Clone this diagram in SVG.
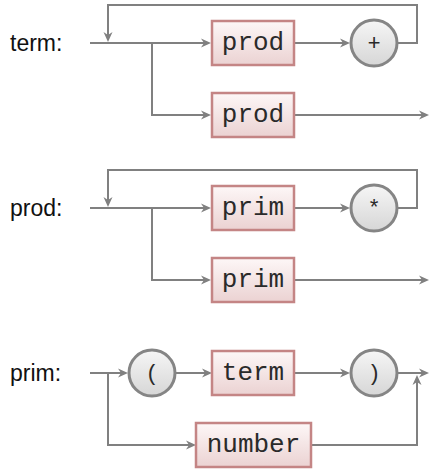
<svg xmlns="http://www.w3.org/2000/svg" width="430" height="471" viewBox="0 0 430 471">
<defs>
<linearGradient id="gBox" x1="0" y1="0" x2="0" y2="1">
<stop offset="0" stop-color="#fdf7f7"/>
<stop offset="1" stop-color="#ebd2d2"/>
</linearGradient>
<linearGradient id="gCirc" x1="0" y1="0" x2="0" y2="1">
<stop offset="0" stop-color="#f6f6f6"/>
<stop offset="1" stop-color="#d6d6d6"/>
</linearGradient>
<marker id="arr" viewBox="0 0 10 10" refX="3" refY="5" markerWidth="10" markerHeight="10" markerUnits="userSpaceOnUse" orient="auto">
<path d="M0,0.5 L10,5 L0,9.5 L3,5 z" fill="#808080"/>
</marker>
<style>
.lbl{font-family:"Liberation Sans",Arial,sans-serif;font-size:23px;fill:#111}
.box rect{fill:url(#gBox);stroke:#c48585;stroke-width:2.5}
.box text{font-family:"Liberation Mono","Courier New",monospace;font-size:26px;fill:#2a2a2a;text-anchor:middle}
.term circle{fill:url(#gCirc);stroke:#858585;stroke-width:3}
.term text{font-family:"Liberation Mono","Courier New",monospace;font-size:22px;fill:#2a2a2a;text-anchor:middle}
.conn path{fill:none;stroke:#808080;stroke-width:2}
.conn path.a{marker-end:url(#arr)}
</style>
</defs>
<rect width="430" height="471" fill="#ffffff"/>

<g id="labels">
<text class="lbl" x="10" y="51">term:</text>
<text class="lbl" x="10" y="216">prod:</text>
<text class="lbl" x="10" y="381">prim:</text>
</g>

<g id="connectors" class="conn">
<!-- term -->
<path class="a" d="M90,43 H204"/>
<path class="a" d="M295,43 H343"/>
<path class="a" d="M397,43 H417 V5 H108 V35"/>
<path class="a" d="M152,43 V115 H204"/>
<path class="a" d="M295,115 H422"/>
<!-- prod -->
<path class="a" d="M90,208 H204"/>
<path class="a" d="M295,208 H343"/>
<path class="a" d="M397,208 H417 V170 H108 V200"/>
<path class="a" d="M152,208 V280 H204"/>
<path class="a" d="M295,280 H422"/>
<!-- prim -->
<path class="a" d="M90,373 H121"/>
<path class="a" d="M175,373 H205"/>
<path class="a" d="M295,373 H343"/>
<path class="a" d="M397,373 H422"/>
<path class="a" d="M108,373 V445 H189"/>
<path class="a" d="M311,445 H417 V382"/>
</g>

<g id="term-prod1" class="box"><rect x="212" y="21" width="82" height="44"/><text x="253" y="50">prod</text></g>
<g id="term-plus" class="term"><circle cx="374" cy="43" r="23"/><text x="374" y="50">+</text></g>
<g id="term-prod2" class="box"><rect x="212" y="93" width="82" height="44"/><text x="253" y="122">prod</text></g>

<g id="prod-prim1" class="box"><rect x="212" y="186" width="82" height="44"/><text x="253" y="215">prim</text></g>
<g id="prod-star" class="term"><circle cx="374" cy="208" r="23"/><text x="374" y="215">*</text></g>
<g id="prod-prim2" class="box"><rect x="212" y="258" width="82" height="44"/><text x="253" y="287">prim</text></g>

<g id="prim-lparen" class="term"><circle cx="152" cy="373" r="23"/><text x="152" y="380">(</text></g>
<g id="prim-term" class="box"><rect x="212" y="351" width="82" height="44"/><text x="253" y="380">term</text></g>
<g id="prim-rparen" class="term"><circle cx="374" cy="373" r="23"/><text x="374" y="380">)</text></g>
<g id="prim-number" class="box"><rect x="196" y="423" width="115" height="44"/><text x="253.5" y="452">number</text></g>
</svg>
